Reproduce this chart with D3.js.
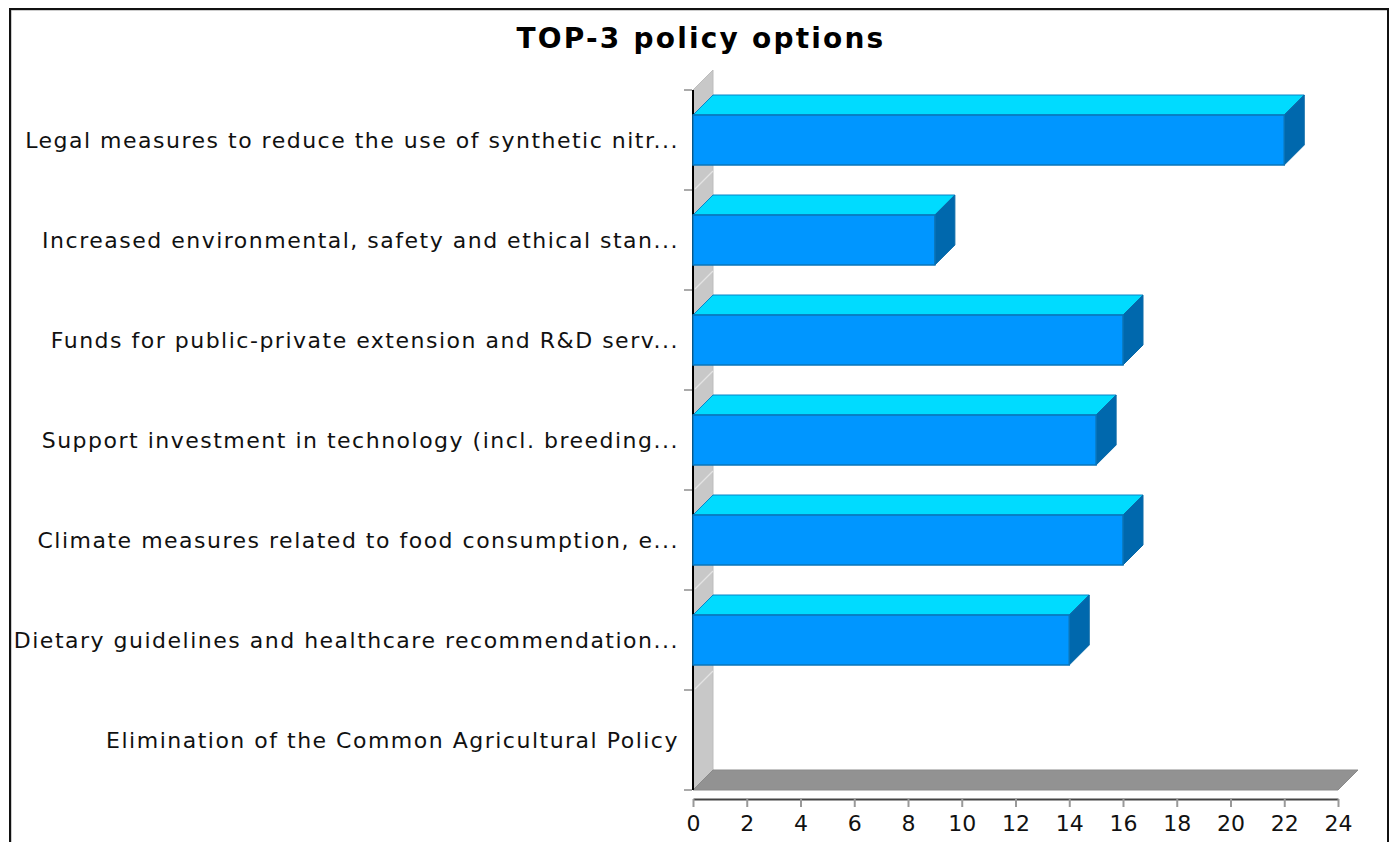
<!DOCTYPE html>
<html>
<head>
<meta charset="utf-8">
<script src="https://cdn.jsdelivr.net/npm/d3@7"></script>
<style>
  html, body { margin: 0; padding: 0; background: #fff; }
  svg { display: block; font-family: "DejaVu Sans", sans-serif; }
</style>
</head>
<body>
<svg id="chart" width="1394" height="842"></svg>
<script>
// Policy options and how many respondents placed each in their top three
const categories = [
  "Legal measures to reduce the use of synthetic nitr...",
  "Increased environmental, safety and ethical stan...",
  "Funds for public-private extension and R&D serv...",
  "Support investment in technology (incl. breeding...",
  "Climate measures related to food consumption, e...",
  "Dietary guidelines and healthcare recommendation...",
  "Elimination of the Common Agricultural Policy"
];
const counts = [22, 9, 16, 15, 16, 14, 0];
const xTicks = [0, 2, 4, 6, 8, 10, 12, 14, 16, 18, 20, 22, 24];
const chartTitle = "TOP-3 policy options";

(function draw() {
  const svg = d3.select("#chart");

  // outer frame
  svg.append("rect").attr("x", 11).attr("y", 10).attr("width", 1377).attr("height", 850)
    .attr("fill", "none").attr("stroke", "#999").attr("stroke-width", 1);
  svg.append("rect").attr("x", 10).attr("y", 9).attr("width", 1378).attr("height", 850)
    .attr("fill", "none").attr("stroke", "#111").attr("stroke-width", 2);

  // title
  svg.append("text").attr("x", 701).attr("y", 48).attr("text-anchor", "middle")
    .attr("font-size", 28).attr("font-weight", "bold").attr("letter-spacing", 2.2)
    .attr("fill", "#000").text(chartTitle);

  // plot geometry (front plane) and depth offset of the 3D effect
  const pLeft = 693, pRight = 1338, pTop = 90, pBottom = 790;
  const dx = 20, dy = -20;

  const x = d3.scaleLinear().domain([0, 24]).range([pLeft, pRight]);
  const y = d3.scaleBand().domain(categories).range([pTop, pBottom]).paddingInner(0).paddingOuter(0);

  // back wall (left side panel)
  svg.append("path")
    .attr("d", `M${pLeft},${pBottom} L${pLeft},${pTop} L${pLeft + dx},${pTop + dy} L${pLeft + dx},${pBottom + dy} Z`)
    .attr("fill", "#c8c8c8").attr("stroke", "#bdbdbd").attr("stroke-width", 1);

  // faint grid strokes across the wall at category boundaries
  svg.append("g").selectAll("line").data(categories.slice(1)).join("line")
    .attr("x1", pLeft + 2).attr("x2", pLeft + dx)
    .attr("y1", d => y(d) - 1).attr("y2", d => y(d) + dy + 1)
    .attr("stroke", "#e4e4e4").attr("stroke-width", 1.2);

  // floor
  svg.append("path")
    .attr("d", `M${pLeft},${pBottom} L${pRight},${pBottom} L${pRight + dx},${pBottom + dy} L${pLeft + dx},${pBottom + dy} Z`)
    .attr("fill", "#929292").attr("stroke", "#8a8a8a").attr("stroke-width", 1);

  // category axis: black line at the front edge plus short gray ticks
  svg.append("line").attr("x1", pLeft).attr("x2", pLeft).attr("y1", pTop).attr("y2", pBottom)
    .attr("stroke", "#000").attr("stroke-width", 2);
  const bounds = categories.map(c => y(c)).concat([pBottom]);
  svg.append("g").selectAll("line").data(bounds).join("line")
    .attr("x1", pLeft - 9).attr("x2", pLeft - 1)
    .attr("y1", d => d).attr("y2", d => d)
    .attr("stroke", "#aaa").attr("stroke-width", 2);

  // category labels
  svg.append("g").selectAll("text").data(categories).join("text")
    .attr("x", 679).attr("y", d => y(d) + y.bandwidth() / 2)
    .attr("dy", "0.35em").attr("text-anchor", "end")
    .attr("font-size", 22).attr("letter-spacing", 1.5)
    .attr("fill", "#111").text(d => d);

  // 3D bars
  const barH = y.bandwidth() * 0.5;
  const rows = categories.map((c, i) => ({ c, v: counts[i] })).filter(d => d.v > 0);
  svg.append("g").selectAll("g").data(rows).join("g").each(function (d) {
    const g = d3.select(this);
    const y0 = y(d.c) + (y.bandwidth() - barH) / 2;
    const x0 = x(0), x1 = x(d.v);
    // top face
    g.append("path")
      .attr("d", `M${x0},${y0} L${x0 + dx},${y0 + dy} L${x1 + dx},${y0 + dy} L${x1},${y0} Z`)
      .attr("fill", "#00dbff").attr("stroke", "#0a84c8").attr("stroke-width", 1);
    // side face
    g.append("path")
      .attr("d", `M${x1},${y0} L${x1 + dx},${y0 + dy} L${x1 + dx},${y0 + barH + dy} L${x1},${y0 + barH} Z`)
      .attr("fill", "#0068ad").attr("stroke", "#0a6aa8").attr("stroke-width", 1);
    // front face
    g.append("rect")
      .attr("x", x0).attr("y", y0).attr("width", x1 - x0).attr("height", barH)
      .attr("fill", "#0096ff").attr("stroke", "#0a74b8").attr("stroke-width", 1.5);
  });

  // value axis
  const xAxis = svg.append("g").attr("transform", `translate(0,${pBottom + 9})`)
    .call(d3.axisBottom(x).tickValues(xTicks).tickSize(8).tickSizeOuter(0).tickPadding(8));
  xAxis.select(".domain").attr("stroke", "#444").attr("stroke-width", 2);
  xAxis.selectAll(".tick line").attr("stroke", "#999").attr("stroke-width", 2);
  xAxis.selectAll(".tick text").attr("font-size", 22).attr("fill", "#111")
    .attr("font-family", "DejaVu Sans, sans-serif");
})();
</script>
</body>
</html>
